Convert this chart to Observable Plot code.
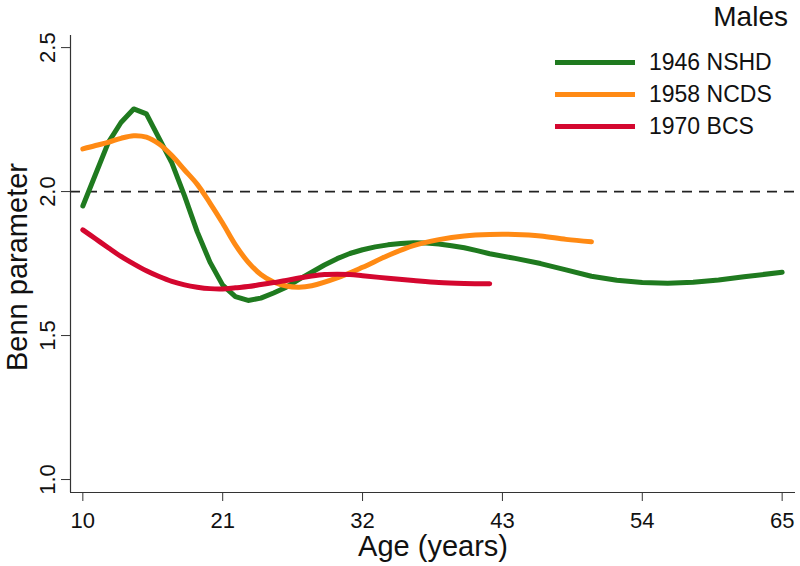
<!DOCTYPE html>
<html><head><meta charset="utf-8">
<script src="https://cdn.jsdelivr.net/npm/d3@7"></script>
<script src="https://cdn.jsdelivr.net/npm/@observablehq/plot@0.6"></script>
<style>
body{margin:0;background:#fff;font-family:"Liberation Sans",Arial,sans-serif;}
#wrap{position:relative;width:800px;height:566px;}
#legend{position:absolute;left:0;top:0;width:800px;height:150px;pointer-events:none;color:#111;}
#legend .title{position:absolute;right:12px;top:3px;font-size:28px;line-height:28px;}
#legend .row{position:absolute;left:555px;height:32px;display:flex;align-items:center;font-size:23px;line-height:32px;}
#legend .sw{width:80px;height:5px;margin-right:14px;}
</style></head>
<body><div id="wrap"><div id="legend"></div></div>
<script>
const seriesNames = ["1946 NSHD", "1958 NCDS", "1970 BCS"];
const seriesColors = ["#1f7a1f", "#ff8a14", "#d4072f"];
const xTicks = [10, 21, 32, 43, 54, 65];
const yTicks = [1.0, 1.5, 2.0, 2.5];
const refLine = [2.0];

const nshdAge = [10,11,12,13,14,15,16,17,18,19,20,21,22,23,24,25,26,27,28,29,30,31,32,33,34,35,36,37,38,39,40,41,42,44,46,48,50,52,54,56,58,60,62,65];
const nshdValue = [1.95,2.06,2.17,2.24,2.287,2.27,2.185,2.10,1.985,1.86,1.755,1.675,1.635,1.622,1.63,1.648,1.668,1.695,1.72,1.745,1.767,1.785,1.798,1.808,1.815,1.82,1.822,1.821,1.818,1.812,1.805,1.795,1.784,1.768,1.75,1.728,1.706,1.692,1.684,1.682,1.685,1.693,1.704,1.72];

const ncdsAge = [10,11,12,13,14,15,16,17,18,19,20,21,22,23,24,25,26,27,28,30,32,34,36,38,40,42,44,46,48,50];
const ncdsValue = [2.148,2.16,2.171,2.185,2.194,2.189,2.165,2.125,2.075,2.025,1.96,1.89,1.815,1.755,1.712,1.686,1.672,1.668,1.673,1.70,1.737,1.778,1.812,1.833,1.846,1.851,1.851,1.846,1.834,1.826];

const bcsAge = [10,11,12,13,14,15,16,17,18,19,20,21,22,23,24,25,26,27,28,29,30,31,32,34,36,38,40,42];
const bcsValue = [1.867,1.836,1.805,1.775,1.749,1.725,1.705,1.688,1.676,1.668,1.663,1.662,1.666,1.67,1.677,1.684,1.691,1.70,1.707,1.712,1.713,1.712,1.708,1.699,1.691,1.684,1.681,1.68];

const xDomain = [9.03, 66.05];
const yDomain = [0.955, 2.542];

const toRows = (ages, vals, name) => ages.map((a, i) => ({series: name, age: a, value: vals[i]}));
const nshd = toRows(nshdAge, nshdValue, seriesNames[0]);
const ncds = toRows(ncdsAge, ncdsValue, seriesNames[1]);
const bcs = toRows(bcsAge, bcsValue, seriesNames[2]);

const chart = Plot.plot({
  width: 800, height: 566,
  marginLeft: 70, marginRight: 5, marginTop: 35, marginBottom: 74,
  x: {domain: xDomain},
  y: {domain: yDomain},
  color: {domain: seriesNames, range: seriesColors},
  style: {fontFamily: "Liberation Sans, Arial, sans-serif", background: "#fff", color: "#222"},
  marks: [
    Plot.ruleY(refLine, {stroke: "#222", strokeWidth: 1.6, strokeDasharray: "10,7"}),
    Plot.line(nshd, {x: "age", y: "value", stroke: "series", strokeWidth: 5, curve: "linear"}),
    Plot.line(ncds, {x: "age", y: "value", stroke: "series", strokeWidth: 5, curve: "catmull-rom"}),
    Plot.line(bcs, {x: "age", y: "value", stroke: "series", strokeWidth: 5, curve: "catmull-rom"}),
    Plot.ruleX([xDomain[0]], {stroke: "#333", strokeWidth: 1.2}),
    Plot.ruleY([yDomain[0]], {stroke: "#333", strokeWidth: 1.2}),
    Plot.axisX({ticks: xTicks, tickSize: 9, tickPadding: 11, fontSize: 22, label: null, stroke: "#333", fill: "#111"}),
    Plot.axisY({ticks: yTicks, tickSize: 9, tickPadding: 7, tickRotate: -90, tickFormat: d3.format(".1f"), fontSize: 22, label: null, stroke: "#333", fill: "#111"}),
    Plot.text(["Age (years)"], {frameAnchor: "bottom", lineAnchor: "middle", textAnchor: "middle", dy: 54, fontSize: 29, fill: "#111"}),
    Plot.text(["Benn parameter"], {frameAnchor: "left", lineAnchor: "middle", textAnchor: "middle", dx: -53, dy: 3, rotate: -90, fontSize: 29, fill: "#111"})
  ]
});
document.getElementById("wrap").prepend(chart);

const leg = document.getElementById("legend");
const t = document.createElement("div"); t.className = "title"; t.textContent = "Males"; leg.appendChild(t);
seriesNames.forEach((name, i) => {
  const r = document.createElement("div"); r.className = "row"; r.style.top = (46 + 32 * i) + "px";
  const sw = document.createElement("div"); sw.className = "sw"; sw.style.background = seriesColors[i];
  const lb = document.createElement("span"); lb.textContent = name;
  r.appendChild(sw); r.appendChild(lb); leg.appendChild(r);
});
</script>
</body></html>
